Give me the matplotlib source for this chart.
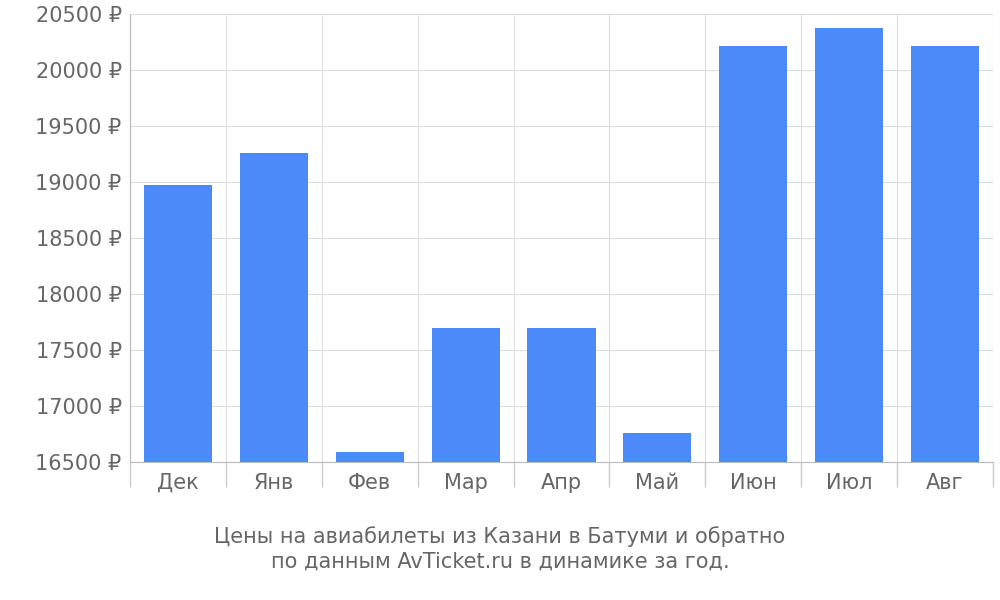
import matplotlib
matplotlib.use("Agg")
import matplotlib.pyplot as plt
import numpy as np

months = ["Дек", "Янв", "Фев", "Мар", "Апр", "Май", "Июн", "Июл", "Авг"]
prices = [18970, 19260, 16590, 17700, 17700, 16760, 20210, 20370, 20210]
yticks = list(range(16500, 20501, 500))

fig = plt.figure(figsize=(10, 6), dpi=100)
ax = fig.add_axes([0.13, 0.23, 0.863, 0.747])
x = np.arange(len(months))
base = 16500
ax.bar(x, [p - base for p in prices], bottom=base, width=0.71, color="#4d8af9", zorder=3)
ax.set_xlim(-0.5, len(months) - 0.5)
ax.set_ylim(16500, 20500)
ax.set_yticks(yticks)
ax.set_yticklabels([f"{v} ₽" for v in yticks], fontsize=15, color="#666666")
ax.set_xticks(x)
ax.set_xticklabels(months, fontsize=15, color="#666666")
ax.tick_params(axis="x", length=0, pad=8)
ax.tick_params(axis="y", length=0, pad=6)
ax.set_xticks(np.arange(-0.5, len(months)), minor=True)
ax.tick_params(axis="x", which="minor", length=18, color="#cccccc", width=1)
ax.grid(True, which="major", axis="y", color="#dddddd", zorder=0)
ax.grid(True, which="minor", axis="x", color="#dddddd", zorder=0)
for s in ["top", "right"]:
    ax.spines[s].set_visible(False)
ax.spines["left"].set_color("#bbbbbb")
ax.spines["bottom"].set_color("#bbbbbb")
fig.text(0.5, 0.085, "Цены на авиабилеты из Казани в Батуми и обратно\nпо данным AvTicket.ru в динамике за год.",
         ha="center", va="center", fontsize=15, color="#666666", linespacing=1.3)
fig.savefig("out.png", dpi=100)
